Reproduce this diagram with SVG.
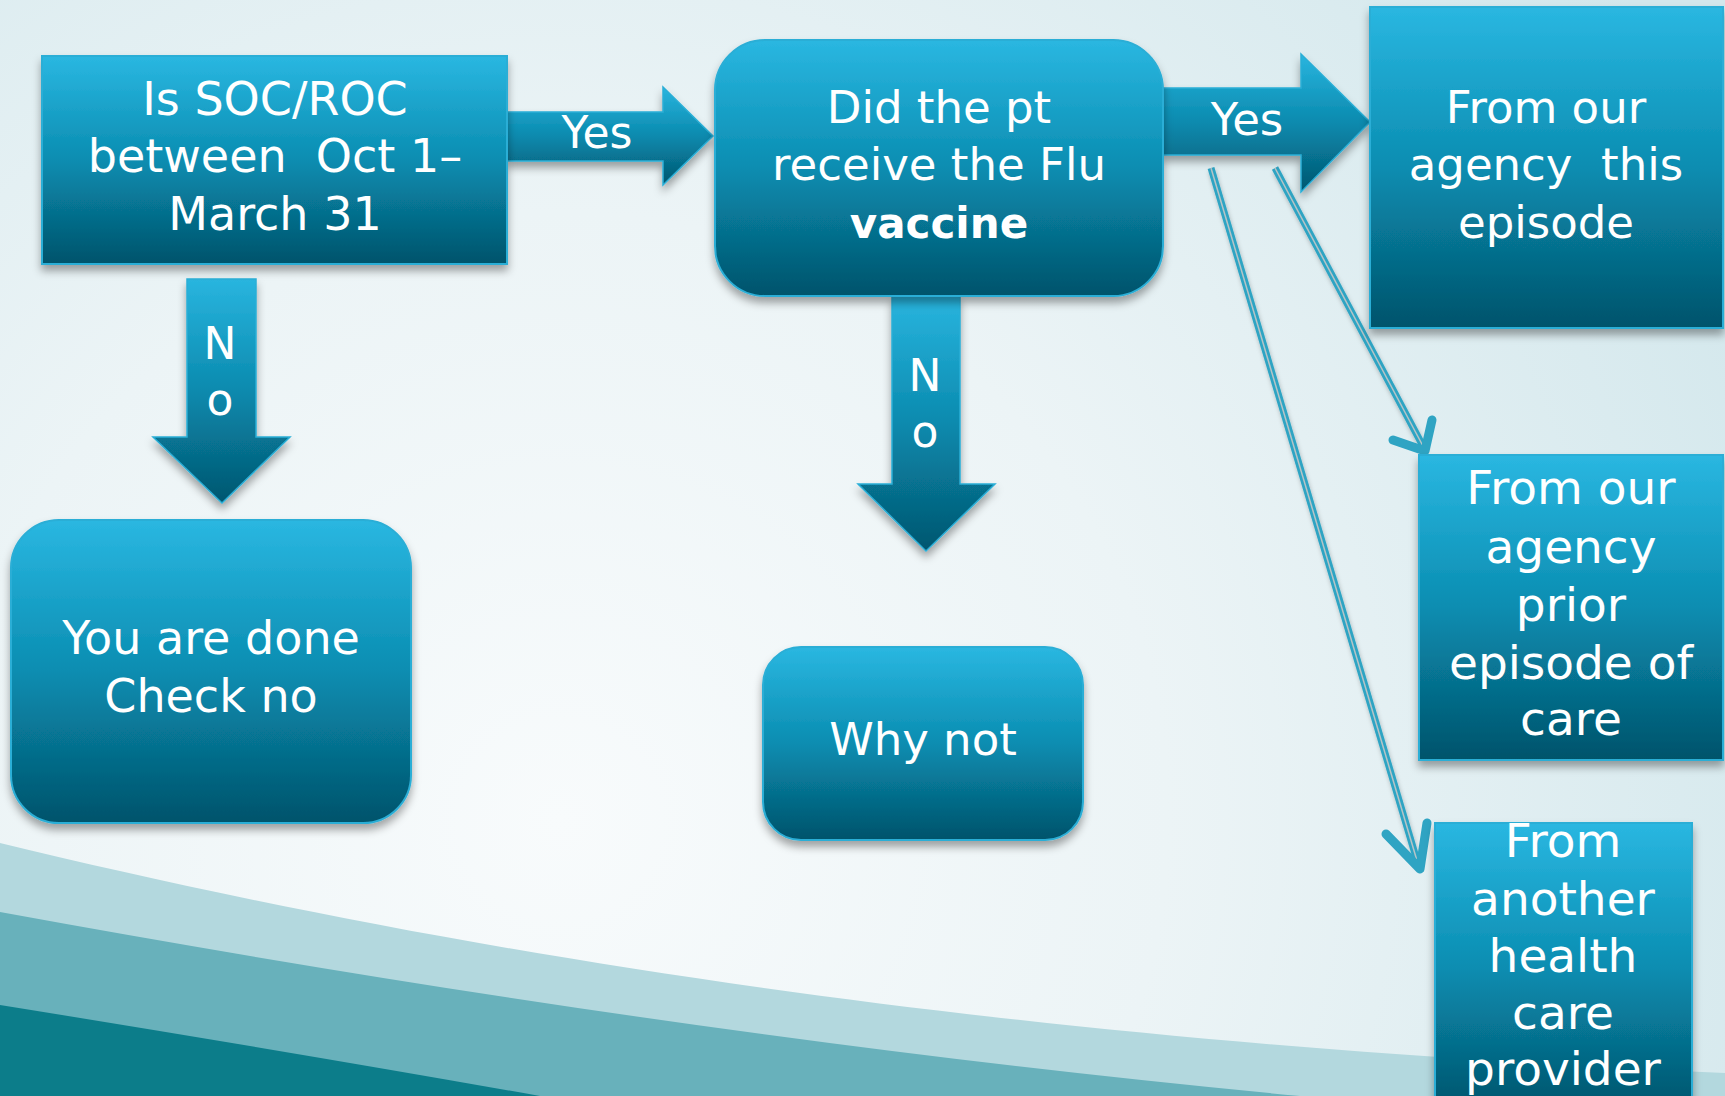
<svg xmlns="http://www.w3.org/2000/svg" width="1725" height="1096" viewBox="0 0 1725 1096">
<defs>
<radialGradient id="bg" cx="560" cy="820" r="1350" gradientUnits="userSpaceOnUse">
<stop offset="0" stop-color="#f8fbfc"/>
<stop offset="0.45" stop-color="#ecf4f6"/>
<stop offset="1" stop-color="#d2e7ec"/>
</radialGradient>
<linearGradient id="node" x1="0" y1="0" x2="0" y2="1">
<stop offset="0" stop-color="#2ab7e1"/>
<stop offset="0.5" stop-color="#0a8db1"/>
<stop offset="1" stop-color="#02536b"/>
</linearGradient>
<linearGradient id="arrowH" x1="0" y1="0" x2="0" y2="1">
<stop offset="0" stop-color="#29b5df"/>
<stop offset="0.5" stop-color="#0a8aae"/>
<stop offset="1" stop-color="#03566f"/>
</linearGradient>
<filter id="sh" x="-10%" y="-10%" width="120%" height="130%">
<feDropShadow dx="0" dy="6" stdDeviation="4" flood-color="#000" flood-opacity="0.35"/>
</filter>
<filter id="shs" x="-10%" y="-10%" width="120%" height="130%">
<feDropShadow dx="1" dy="3" stdDeviation="2" flood-color="#000" flood-opacity="0.25"/>
</filter>
</defs>
<style>
.box{fill:url(#node);stroke:#2aaed6;stroke-width:2;filter:url(#sh)}
.blk{fill:url(#arrowH);stroke:#2aaed6;stroke-width:1.5;filter:url(#sh)}
.t{font-family:"DejaVu Sans",Verdana,sans-serif;fill:#ffffff;text-anchor:middle}
.lineOuter{fill:none;stroke:#2fa4c3;stroke-width:7;filter:url(#shs)}
.lineInner{fill:none;stroke:#b7c4c7;stroke-width:1.5}
.head{fill:none;stroke:#2fa4c3;stroke-width:9;stroke-linecap:round;stroke-linejoin:round}
</style>

<!-- background -->
<rect x="0" y="0" width="1725" height="1096" fill="url(#bg)"/>
<path d="M0,843 C400,940 950,1040 1725,1073 L1725,1096 L0,1096 Z" fill="#b3d8de"/>
<path d="M0,912 Q700,1040 1300,1096 L0,1096 Z" fill="#68b1bb"/>
<path d="M0,1005 Q280,1050 540,1096 L0,1096 Z" fill="#0c7d8a"/>

<!-- connectors -->
<g id="connectors">
<path class="blk" d="M507,112 H663 V87 L713,136 L663,185 V161 H507 Z"/>
<text class="t" x="597" y="148" font-size="44">Yes</text>
<path class="blk" d="M187,279 H256 V437 H290 L222,503 L153,437 H187 Z"/>
<text class="t" x="220" y="359" font-size="44">N</text>
<text class="t" x="220" y="415" font-size="44">o</text>
<path class="blk" d="M892,296 H960 V484 H995 L926,551 L858,484 H892 Z"/>
<text class="t" x="925" y="391" font-size="44">N</text>
<text class="t" x="925" y="447" font-size="44">o</text>
<path class="lineOuter" d="M1275,168 L1424,448"/>
<path class="lineInner" d="M1275,168 L1424,448"/>
<polyline class="head" points="1432,420 1425,451 1393,440"/>
<path class="lineOuter" d="M1211,168 L1418,864"/>
<path class="lineInner" d="M1211,168 L1418,864"/>
<polyline class="head" points="1427,823 1420,869 1386,834"/>
<path class="blk" d="M1163,88 H1301 V54 L1370,122 L1301,192 V155 H1163 Z"/>
<text class="t" x="1247" y="135" font-size="45">Yes</text>
</g>

<g id="node-soc">
<rect class="box" x="42" y="56" width="465" height="208"/>
<text class="t" x="275" y="115" font-size="46">Is SOC/ROC</text>
<text class="t" x="275" y="172" font-size="46" xml:space="preserve">between  Oct 1–</text>
<text class="t" x="275" y="230" font-size="46">March 31</text>
</g>

<g id="node-flu">
<rect class="box" x="715" y="40" width="448" height="256" rx="50" ry="50"/>
<text class="t" x="939" y="123" font-size="45">Did the pt</text>
<text class="t" x="939" y="180" font-size="45">receive the Flu</text>
<text class="t" x="939" y="238" font-size="42" font-weight="bold">vaccine</text>
</g>

<g id="node-this-episode">
<rect class="box" x="1370" y="7" width="353" height="321"/>
<text class="t" x="1546" y="123" font-size="45">From our</text>
<text class="t" x="1546" y="180" font-size="45" xml:space="preserve">agency  this</text>
<text class="t" x="1546" y="238" font-size="45">episode</text>
</g>

<g id="node-done">
<rect class="box" x="11" y="520" width="400" height="303" rx="48" ry="48"/>
<text class="t" x="211" y="654" font-size="46">You are done</text>
<text class="t" x="211" y="712" font-size="46">Check no</text>
</g>

<g id="node-why-not">
<rect class="box" x="763" y="647" width="320" height="193" rx="38" ry="38"/>
<text class="t" x="923" y="755" font-size="45">Why not</text>
</g>

<g id="node-prior-episode">
<rect class="box" x="1419" y="455" width="304" height="305"/>
<text class="t" x="1571" y="504" font-size="47">From our</text>
<text class="t" x="1571" y="563" font-size="47">agency</text>
<text class="t" x="1571" y="621" font-size="47">prior</text>
<text class="t" x="1571" y="679" font-size="47">episode of</text>
<text class="t" x="1571" y="735" font-size="47">care</text>
</g>

<g id="node-other-provider">
<rect class="box" x="1435" y="823" width="257" height="290"/>
<text class="t" x="1563" y="857" font-size="47">From</text>
<text class="t" x="1563" y="915" font-size="47">another</text>
<text class="t" x="1563" y="972" font-size="47">health</text>
<text class="t" x="1563" y="1029" font-size="47">care</text>
<text class="t" x="1563" y="1085" font-size="47">provider</text>
</g>
</svg>
